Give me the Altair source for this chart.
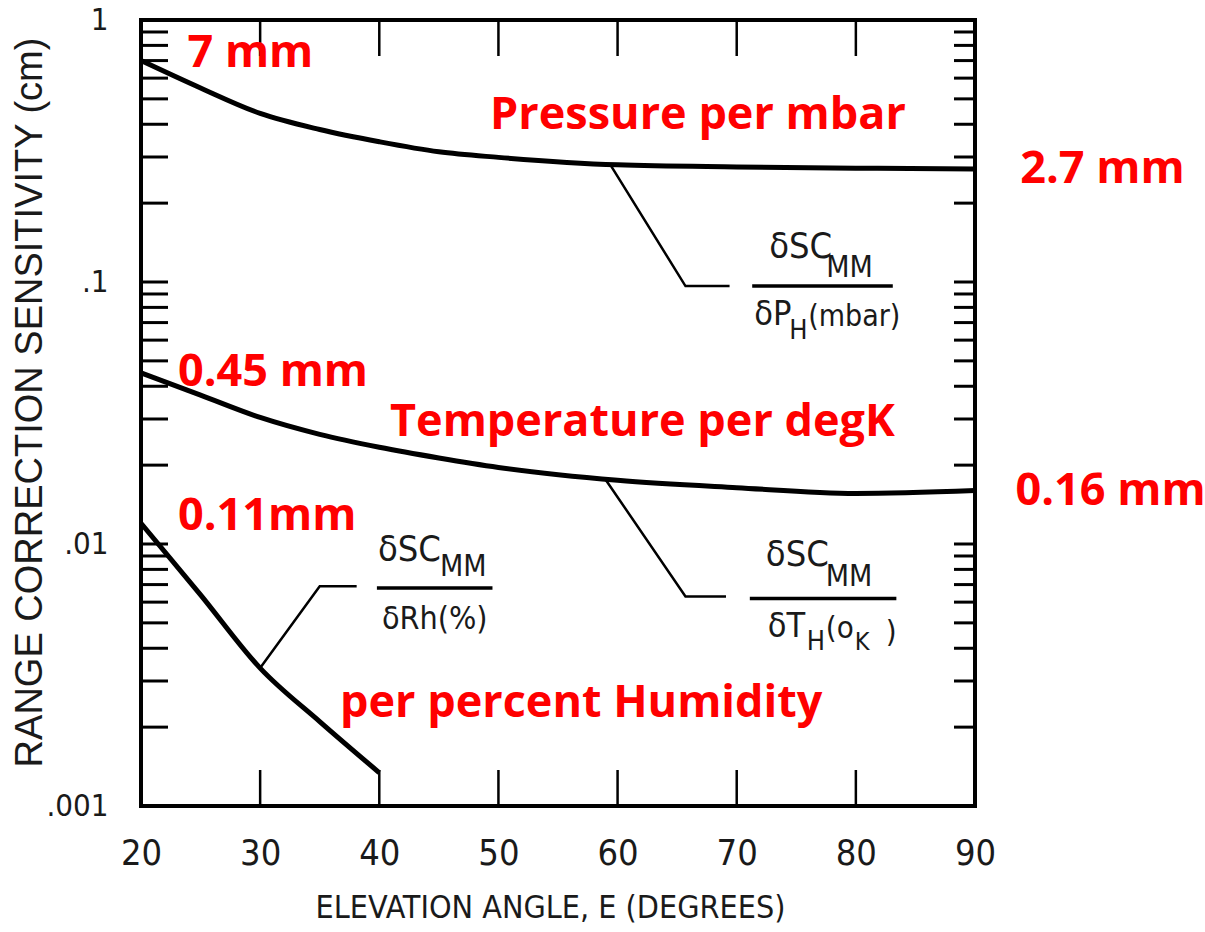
import altair as alt
import pandas as pd

# ---- curve data: range correction sensitivity (cm) vs elevation angle (deg)
ANGLE = [20, 25, 30, 35, 40, 45, 50, 60, 70, 80, 90]
PRESSURE = [0.70, 0.55, 0.44, 0.382, 0.343, 0.314, 0.299, 0.28, 0.275, 0.272, 0.27]
TEMPERATURE = [0.045, 0.037, 0.0304, 0.0262, 0.0234, 0.0213, 0.0196, 0.0175, 0.0164, 0.0156, 0.016]
HUMIDITY_ANGLE = [20, 25, 30, 35, 40]
HUMIDITY = [0.012, 0.0064, 0.00336, 0.0021, 0.00134]

# ---- axes
X_TICKS = [20, 30, 40, 50, 60, 70, 80, 90]
X_INNER_TICKS = [30, 40, 50, 60, 70, 80]
Y_TICKS = [1, 0.1, 0.01, 0.001]
Y_TICK_LABELS = ["1", ".1", ".01", ".001"]
Y_MINOR = [0.002, 0.003, 0.004, 0.005, 0.006, 0.007, 0.008, 0.009, 0.01,
           0.02, 0.03, 0.04, 0.05, 0.06, 0.07, 0.08, 0.09, 0.1,
           0.2, 0.3, 0.4, 0.5, 0.6, 0.7, 0.8, 0.9]

# ---- leader lines (angle, value) from curve to fraction label
LEADER_P_ANGLE = [59.4, 65.7, 69.4]
LEADER_P_VALUE = [0.28, 0.0965, 0.0965]
LEADER_T_ANGLE = [59.0, 65.7, 69.1]
LEADER_T_VALUE = [0.0176, 0.0063, 0.0063]
LEADER_H_ANGLE = [30.0, 35.0, 38.1]
LEADER_H_VALUE = [0.00336, 0.0069, 0.0069]

# ---- fraction bars: start angle, end angle, value
BAR_START = [71.3, 71.1, 39.8]
BAR_END = [83.1, 83.4, 49.5]
BAR_VALUE = [0.0965, 0.0062, 0.0068]

# ---- red annotations
RED_TEXT = ["7 mm", "Pressure per mbar", "2.7 mm",
            "0.45 mm", "Temperature per degK", "0.16 mm",
            "0.11mm", "per percent Humidity"]
RED_ANGLE = [23.9, 49.3, 93.8, 23.1, 40.9, 93.4, 23.1, 36.7]
RED_VALUE = [0.745, 0.434, 0.27, 0.0455, 0.0292, 0.016, 0.0128, 0.00247]

NARROW = "Liberation Sans Narrow, DejaVu Sans Condensed, Liberation Sans, sans-serif"
INK = "#1a1a1a"

x_scale = alt.Scale(domain=[20, 90], nice=False, zero=False)
y_scale = alt.Scale(type="log", domain=[0.001, 1], nice=False)

W, H = 834, 786

curves = pd.concat([
    pd.DataFrame({"angle": ANGLE, "value": PRESSURE, "series": "pressure"}),
    pd.DataFrame({"angle": ANGLE, "value": TEMPERATURE, "series": "temperature"}),
    pd.DataFrame({"angle": HUMIDITY_ANGLE, "value": HUMIDITY, "series": "humidity"}),
])

label_expr = " : ".join(
    f"datum.value == {v} ? '{t}'" for v, t in zip(Y_TICKS, Y_TICK_LABELS)
) + " : ''"

X_AXIS = alt.Axis(
    values=X_TICKS, title="ELEVATION ANGLE, E (DEGREES)",
    domain=False, ticks=False, grid=False, labelPadding=30, labelFlush=False,
    labelFont=NARROW, labelFontSize=36, labelColor=INK,
    titleFont=NARROW, titleFontSize=32, titleFontWeight="normal",
    titleColor=INK, titleX=409, titleY=101, titleBaseline="middle",
    titleAlign="center")
Y_AXIS = alt.Axis(
    values=Y_TICKS, labelExpr=label_expr,
    title="RANGE CORRECTION SENSITIVITY (cm)",
    domain=False, ticks=False, grid=False, labelPadding=33, labelFlush=False,
    labelFont=NARROW, labelFontSize=31, labelColor=INK,
    labelBaseline="middle",
    titleFont="Liberation Sans", titleFontSize=38, titleFontWeight="normal",
    titleColor=INK, titleX=-111, titleY=382, titleBaseline="middle",
    titleAlign="center", titleAngle=270)


def xenc(**kw):
    return alt.X("angle:Q", scale=x_scale, axis=X_AXIS, **kw)


def yenc(**kw):
    return alt.Y("value:Q", scale=y_scale, axis=Y_AXIS, **kw)


curve_layer = alt.Chart(curves).mark_line(
    color="black", strokeWidth=5, interpolate="monotone"
).encode(x=xenc(), y=yenc(), detail="series:N")

# inward ticks on all four sides of the frame
minor_df = pd.DataFrame({"value": Y_MINOR})
left_ticks = alt.Chart(minor_df).mark_rule(color="black", strokeWidth=3).encode(
    y=yenc(), x=alt.value(0), x2=alt.value(27))
right_ticks = alt.Chart(minor_df).mark_rule(color="black", strokeWidth=3).encode(
    y=yenc(), x=alt.value(W - 21), x2=alt.value(W))
inner_df = pd.DataFrame({"angle": X_INNER_TICKS})
top_ticks = alt.Chart(inner_df).mark_rule(color="black", strokeWidth=2.5).encode(
    x=xenc(), y=alt.value(0), y2=alt.value(36))
bottom_ticks = alt.Chart(inner_df).mark_rule(color="black", strokeWidth=2.5).encode(
    x=xenc(), y=alt.value(H - 36), y2=alt.value(H))

# leader lines
leaders = pd.concat([
    pd.DataFrame({"angle": LEADER_P_ANGLE, "value": LEADER_P_VALUE, "series": "p", "order": [0, 1, 2]}),
    pd.DataFrame({"angle": LEADER_T_ANGLE, "value": LEADER_T_VALUE, "series": "t", "order": [0, 1, 2]}),
    pd.DataFrame({"angle": LEADER_H_ANGLE, "value": LEADER_H_VALUE, "series": "h", "order": [0, 1, 2]}),
])
leader_layer = alt.Chart(leaders).mark_line(color="black", strokeWidth=2.5).encode(
    x=xenc(), y=yenc(), detail="series:N", order="order:Q")

bars_df = pd.DataFrame({"angle": BAR_START, "angle2": BAR_END, "value": BAR_VALUE})
bar_layer = alt.Chart(bars_df).mark_rule(color="black", strokeWidth=3.5).encode(
    x=xenc(), x2="angle2:Q", y=yenc())

# fraction labels: pieces placed relative to the left end of each bar
FRACTION_PIECES = [
    # pressure
    [("δSC", 17, -28, 36), ("MM", 74, -9, 30), ("δP", 2, 39, 34),
     ("H", 37, 53, 27), ("(mbar)", 56, 40, 30)],
    # temperature
    [("δSC", 16, -32, 36), ("MM", 76, -12, 30), ("δT", 18, 39, 34),
     ("H", 57, 52, 27), ("(o", 76, 40, 31), ("K", 105, 52, 25), (")", 136, 44, 31)],
    # humidity
    [("δSC", 1, -27, 36), ("MM", 63, -12, 30), ("δRh(%)", 5, 41, 32)],
]
fraction_layers = []
for i, pieces in enumerate(FRACTION_PIECES):
    anchor = pd.DataFrame({"angle": [BAR_START[i]], "value": [BAR_VALUE[i]]})
    for txt, dx, dy, size in pieces:
        fraction_layers.append(
            alt.Chart(anchor).mark_text(
                text=txt, align="left", baseline="alphabetic", dx=dx, dy=dy,
                font=NARROW, fontSize=size, color=INK
            ).encode(x=xenc(), y=yenc())
        )

red_df = pd.DataFrame({"label": RED_TEXT, "angle": RED_ANGLE, "value": RED_VALUE})
red_layer = alt.Chart(red_df).mark_text(
    align="left", baseline="middle", font="Open Sans", fontWeight="bold",
    fontSize=45, color="#ff0000"
).encode(x=xenc(), y=yenc(), text="label:N")

chart = alt.layer(
    curve_layer, left_ticks, right_ticks, top_ticks, bottom_ticks,
    leader_layer, bar_layer, *fraction_layers, red_layer
).properties(
    width=W, height=H,
    autosize=alt.AutoSizeParams(type="none"),
    padding={"left": 141, "top": 20, "right": 230, "bottom": 126},
    background="white",
).configure_view(stroke="black", strokeWidth=4)

chart.save("out.html", embed_options={"renderer": "svg", "actions": False})
